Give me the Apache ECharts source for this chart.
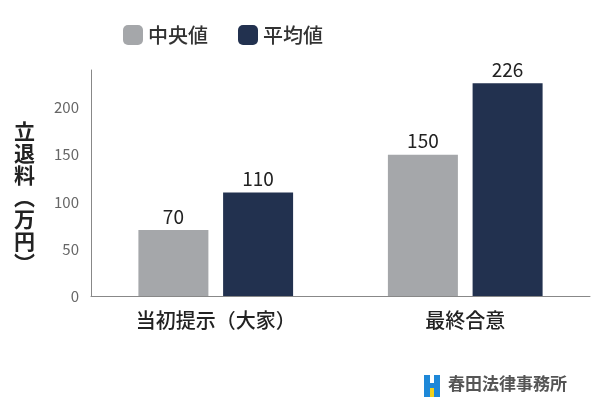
<!DOCTYPE html>
<html><head><meta charset="utf-8">
<script src="https://cdn.jsdelivr.net/npm/echarts@6/dist/echarts.min.js"></script>
<style>html,body{margin:0;padding:0;background:#fff}#c{width:600px;height:412px}</style>
</head><body><div id="c"></div>
<script>
const categories = ['当初提示（大家）', '最終合意'];
const medianValues = [70, 150];
const meanValues = [110, 226];
const seriesNames = ['中央値', '平均値'];
const F = '"Noto Sans CJK JP", "Noto Sans", sans-serif';
const chart = echarts.init(document.getElementById('c'));
chart.setOption({
  animation: false,
  textStyle: { fontFamily: F },
  legend: { top: 20, left: 118, itemWidth: 20, itemHeight: 20, itemGap: 30,
    textStyle: { fontSize: 20, color: '#333', fontWeight: 500, fontFamily: F }, data: seriesNames },
  grid: { left: 91, right: 10, top: 70, bottom: 116 },
  xAxis: { type: 'category', data: categories,
    axisLine: { lineStyle: { color: '#888' } }, axisTick: { show: false },
    axisLabel: { fontSize: 20, color: '#222', fontWeight: 500, margin: 14, fontFamily: F } },
  yAxis: { type: 'value', min: 0, max: 240, interval: 50,
    axisLine: { show: true, lineStyle: { color: '#888' } }, splitLine: { show: false },
    axisLabel: { fontSize: 15, color: '#666', margin: 12, formatter: v => v % 50 === 0 ? v : '' } },
  graphic: [
    { type: 'text', left: 14, top: 120, style: { text: '立\n退\n料\n︵\n万\n円\n︶', fontSize: 21, lineHeight: 22, fontWeight: 'bold', fontFamily: F, fill: '#222' } },
    { type: 'rect', left: 424, top: 375, shape: { width: 6, height: 22 }, style: { fill: '#1e88d8' } },
    { type: 'rect', left: 434, top: 375, shape: { width: 6, height: 22 }, style: { fill: '#1e88d8' } },
    { type: 'rect', left: 424, top: 383, shape: { width: 16, height: 5 }, style: { fill: '#1e88d8' } },
    { type: 'rect', left: 430, top: 388, shape: { width: 4, height: 9 }, style: { fill: '#f2d21c' } },
    { type: 'text', left: 448, top: 375, style: { text: '春田法律事務所', fontSize: 17, fontWeight: 'bold', fontFamily: F, fill: '#555' } }
  ],
  series: [
    { name: seriesNames[0], type: 'bar', data: medianValues, barWidth: 70, barGap: '21%',
      itemStyle: { color: '#a5a7aa' },
      label: { show: true, position: 'top', fontSize: 19, color: '#222', distance: 4 } },
    { name: seriesNames[1], type: 'bar', data: meanValues, barWidth: 70,
      itemStyle: { color: '#22314f' },
      label: { show: true, position: 'top', fontSize: 19, color: '#222', distance: 4 } }
  ]
});
</script></body></html>
